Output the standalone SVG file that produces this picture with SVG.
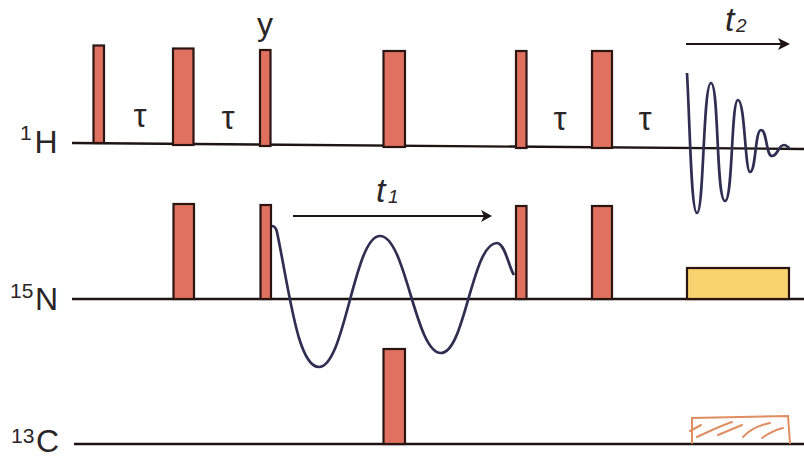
<svg xmlns="http://www.w3.org/2000/svg" width="804" height="456" viewBox="0 0 804 456">
<style>
.p{fill:#e0705f;stroke:#2a1512;stroke-width:2.2}
.l{fill:none;stroke:#1e1412;stroke-width:2.4}
.a{fill:none;stroke:#1e1412;stroke-width:2}
.h{fill:#1e1412}
.w{fill:none;stroke:#2f2e52;stroke-width:2.7;stroke-linejoin:round}
.x{fill:none;stroke:#e08d62;stroke-width:2;stroke-linecap:round}
text{font-family:"Liberation Sans",Arial,sans-serif;fill:#2a2526}
.b{font-size:32px}
.s{font-size:21px}
.t{font-size:33px}
.y{font-size:32px}
.i{font-size:34px;font-style:italic}
.j{font-size:19px;font-style:italic}
</style>
<rect width="804" height="456" fill="#fff"/>
<g id="connectors">
<path class="l" d="M72 143 L804 149"/>
<path class="l" d="M72 299 H804"/>
<path class="l" d="M74 444 H804"/>
<path class="a" d="M293 216 H484"/>
<path class="h" d="M481 210 L492 216 L481 222 L484 216Z"/>
<path class="a" d="M686 44 H781"/>
<path class="h" d="M778 38 L790 44 L778 50 L781 44Z"/>
</g>
<g id="h-pulses">
<rect class="p" x="93.500" y="45.500" width="10.500" height="97.500"/>
<rect class="p" x="173" y="48.500" width="20.500" height="96.500"/>
<rect class="p" x="260" y="50" width="10.500" height="96"/>
<rect class="p" x="383.500" y="51" width="21.500" height="96"/>
<rect class="p" x="516" y="51" width="10.500" height="97"/>
<rect class="p" x="592" y="51" width="20" height="97"/>
</g>
<g id="n-pulses">
<rect class="p" x="173.500" y="204" width="20.500" height="95"/>
<rect class="p" x="260.500" y="205" width="10.500" height="94"/>
<rect class="p" x="516" y="206" width="10.500" height="93"/>
<rect class="p" x="592" y="206" width="20" height="93"/>
<rect x="687" y="268" width="102" height="31" fill="#f7d26d" stroke="#2a1512" stroke-width="2.2"/>
</g>
<g id="c-pulses">
<rect class="p" x="383.500" y="349" width="21.500" height="95"/>
<g id="hatched">
<path class="x" d="M692 443 V418 L788 416 L790 443"/>
<path class="x" d="M690 431 L701 425 M697 437 C710 431 720 426 732 422 M718 435 L742 425 M743 437 C750 429 760 425 770 423 M762 438 C769 433 775 430 783 428"/>
</g>
</g>
<g id="fid-t1">
<path class="w" d="M272 226 C275 226 276 228 277 232 C290 295 298 367 319 367 C345 367 354 236 380 236 C406 236 415 353 441 353 C465 353 472 243 497 243 C505 243 509 268 514 275"/>
</g>
<g id="fid-t2">
<path class="w" d="M687 73 C690 125 691 213 697 213 C704 213 703 83 711 83 C719 83 716 201 725 201 C733 201 731 100 738 100 C745 100 745 172 750 172 C756 172 755 130 761 130 C767 130 766 156 772 156 C778 156 778 145 784 145 C787 145 788 148 790 148"/>
</g>
<g id="labels">
<text class="t" x="140" y="127" text-anchor="middle">τ</text>
<text class="t" x="228" y="129" text-anchor="middle">τ</text>
<text class="t" x="560" y="130" text-anchor="middle">τ</text>
<text class="t" x="645" y="130" text-anchor="middle">τ</text>
<text class="y" x="265" y="35" text-anchor="middle">y</text>
<text class="i" x="376" y="202">t</text><text class="j" x="388" y="203">1</text>
<text class="i" x="725" y="31">t</text><text class="j" x="736" y="32">2</text>
<text class="s" x="20" y="140">1</text><text class="b" x="34.500" y="153">H</text>
<text class="s" x="10" y="298">15</text><text class="b" x="35" y="310">N</text>
<text class="s" x="11" y="443">13</text><text class="b" x="36" y="452">C</text>
</g>
</svg>
